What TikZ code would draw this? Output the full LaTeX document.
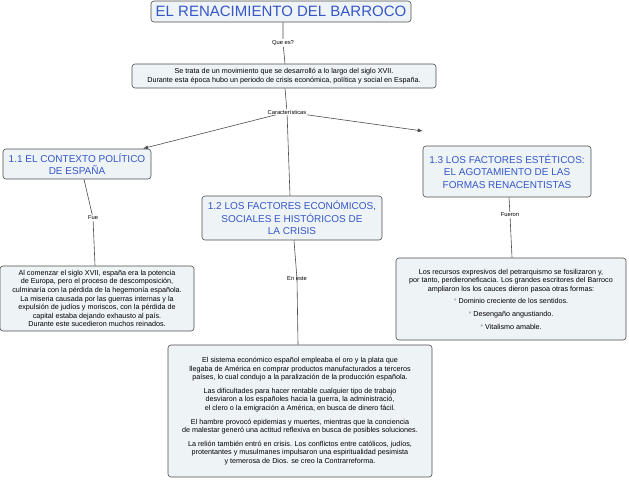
\documentclass[tikz,border=0pt]{standalone}
\usepackage{fontspec}
\usetikzlibrary{arrows.meta}
\setmainfont{Liberation Sans}
\begin{document}
\begin{tikzpicture}[x=1pt,y=-1pt,
  box/.style={draw=black!70,fill=boxbg,rounded corners=3pt,line width=0.6pt,inner sep=0pt,align=center},
  ttl/.style={text=ttlblue},
  small/.style={font=\fontsize{7.2}{8.6}\selectfont},
  lbl/.style={font=\fontsize{5.8}{6}\selectfont,fill=white,inner sep=1pt},
  conn/.style={draw=black!70,line width=0.6pt},
  arr/.style={conn,-{Latex[length=5pt,width=4pt]}}]
\definecolor{boxbg}{HTML}{EEF3F6}
\definecolor{ttlblue}{HTML}{3557C8}
\useasboundingbox (0,0) rectangle (629,480);
\node[box,ttl,minimum width=260,minimum height=21,font=\fontsize{15}{17}\selectfont] (title) at (281,11.5) {EL RENACIMIENTO DEL BARROCO};
\node[box,small,minimum width=304,minimum height=24] (def) at (284,76) {Se trata de un movimiento que se desarrolló a lo largo del siglo XVII.\\Durante esta época hubo un periodo de crisis económica, política y social en España.};
\node[box,ttl,minimum width=148,minimum height=30,font=\fontsize{10}{12.5}\selectfont] (c11) at (77,164) {1.1 EL CONTEXTO POLÍTICO\\DE ESPAÑA};
\node[box,ttl,minimum width=180,minimum height=44,font=\fontsize{10}{12.5}\selectfont] (c12) at (292,218) {1.2 LOS FACTORES ECONÓMICOS,\\SOCIALES E HISTÓRICOS DE\\LA CRISIS};
\node[box,ttl,minimum width=168,minimum height=51,font=\fontsize{10}{12.5}\selectfont] (c13) at (507,171.5) {1.3 LOS FACTORES ESTÉTICOS:\\EL AGOTAMIENTO DE LAS\\FORMAS RENACENTISTAS};
\node[box,small,minimum width=194,minimum height=65] (t11) at (97,298.5) {Al comenzar el siglo XVII, españa era la potencia\\de Europa, pero el proceso de descomposición,\\culminaría con la pérdida de la hegemonía española.\\La miseria causada por las guerras internas y la\\expulsión de judíos y moriscos, con la pérdida de\\capital estaba dejando exhausto al país.\\Durante este sucedieron muchos reinados.};
\node[box,small,minimum width=230,minimum height=82] (t13) at (511,299) {Los recursos expresivos del petrarquismo se fosilizaron y,\\por tanto, perdieroneficacia. Los grandes escritores del Barroco\\ampliaron los  los cauces dieron pasoa otras formas:\\[4pt]{\color{black!40}*} Dominio creciente de los sentidos.\\[4pt]{\color{black!40}*} Desengaño angustiando.\\[4pt]{\color{black!40}*} Vitalismo amable.};
\node[box,small,minimum width=264,minimum height=132] (t12) at (300,411) {El sistema económico español empleaba el oro y la plata que\\llegaba de América en comprar productos manufacturados a terceros\\países, lo cual condujo a la paralización de la producción española.\\[5pt]Las dificultades para hacer rentable cualquier tipo de trabajo\\desviaron a los españoles hacia la guerra, la administració,\\el clero o la  emigración a América, en busca de dinero fácil.\\[5pt]El hambre provocó epidemias y muertes, mientras que la conciencia\\de malestar generó una actitud reflexiva en busca de posibles soluciones.\\[5pt]La relión también entró en crisis. Los conflictos entre católicos, judíos,\\protentantes y musulmanes impulsaron una espiritualidad pesimista\\y temerosa de Dios. se creo la Contrarreforma.};
\coordinate (qp) at (283,43);
\coordinate (cp) at (287,112);
\coordinate (fp) at (93,218);
\coordinate (ep) at (297,279);
\coordinate (fnp) at (510,215);
\draw[conn] (title.south -| qp) -- (qp) -- (def.north -| 285,0);
\draw[conn] (def.south -| 285,0) -- (cp) -- (c12.north -| 290,0);
\draw[arr] (cp) -- (143,148.5);
\draw[arr] (cp) -- (c13.west |- 0,131);
\draw[conn] (c11.south -| 84,0) -- (fp) -- (t11.north -| 95,0);
\draw[conn] (c12.south -| 294,0) -- (ep) -- (t12.north -| 298,0);
\draw[conn] (c13.south -| 509,0) -- (fnp) -- (t13.north -| 512,0);
\node[lbl] (lq) at (qp) {Que es?};
\node[lbl] (lc) at (cp) {Características};
\node[lbl] (lf) at (fp) {Fue};
\node[lbl,fill=none] (le) at (ep) {En este};
\node[lbl] (lfn) at (fnp) {Fueron};
\end{tikzpicture}
\end{document}
